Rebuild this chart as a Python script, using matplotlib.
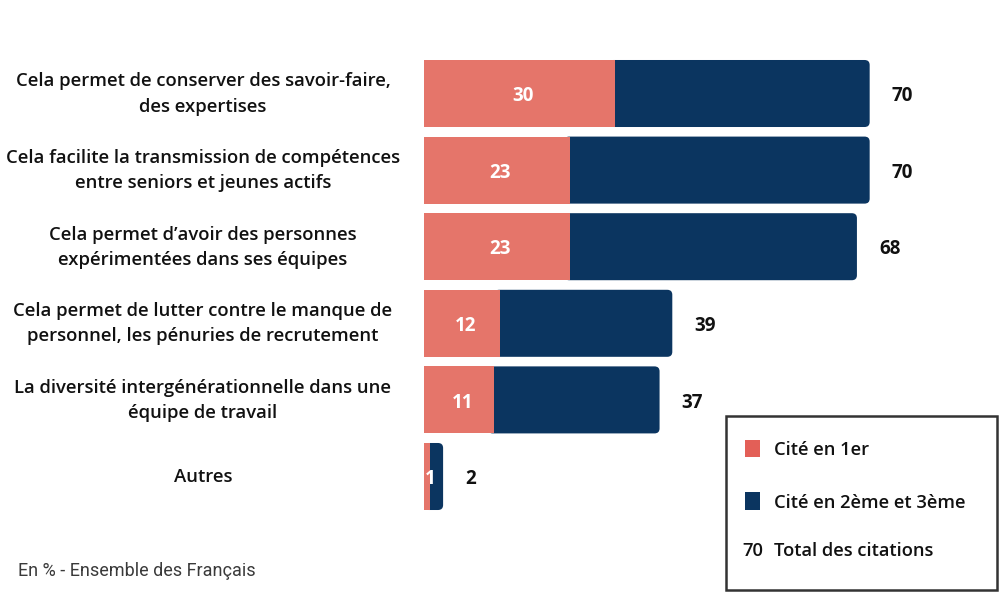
import matplotlib
matplotlib.use("Agg")
import matplotlib.pyplot as plt
from matplotlib.patches import FancyBboxPatch, Rectangle

categories = [
    "Cela permet de conserver des savoir-faire,\ndes expertises",
    "Cela facilite la transmission de compétences\nentre seniors et jeunes actifs",
    "Cela permet d’avoir des personnes\nexpérimentées dans ses équipes",
    "Cela permet de lutter contre le manque de\npersonnel, les pénuries de recrutement",
    "La diversité intergénérationnelle dans une\néquipe de travail",
    "Autres",
]
first = [30, 23, 23, 12, 11, 1]
second_third = [40, 47, 45, 27, 26, 2]
totals = [70, 70, 68, 39, 37, 2]

PINK = "#E5756A"
NAVY = "#0B3560"
FONT = "Open Sans"

fig = plt.figure(figsize=(10, 6), dpi=100)
ax = fig.add_axes([0.424, 0.142, 0.573, 0.766])
ax.set_xlim(0, 90)
ax.set_ylim(len(categories) - 0.5, -0.5)
ax.axis("off")

h = 0.875
# rounding: ~5 px, x scale ~6.37 px/unit, y ~76.6 px/unit
rx = 0.8
asp = (5 / 76.6) / rx
for i in range(len(categories)):
    full = first[i] + second_third[i]
    start = max(0, first[i] - 1)
    box = FancyBboxPatch((start, i - h / 2), full - start, h,
                         boxstyle=f"round,pad=0,rounding_size={rx}",
                         mutation_aspect=asp, fc=NAVY, ec="none", zorder=2)
    ax.add_patch(box)
    ax.add_patch(Rectangle((0, i - h / 2), first[i], h, fc=PINK, ec="none", zorder=3))
    ax.annotate(str(first[i]), (first[i] / 2 + 0.5, i), xytext=(0, -2),
                textcoords="offset points", ha="center", va="center", color="white",
                fontsize=13.5, fontweight="bold", family=FONT, zorder=4)
    ax.annotate(str(totals[i]), (full, i), xytext=(16, -2), textcoords="offset points",
                ha="left", va="center", fontsize=13.5, fontweight="bold",
                family=FONT, color="#111111")
    fig.text(0.203, 1 - (94 + 76.6 * i) / 600, categories[i], ha="center", va="center",
             fontsize=13.3, fontweight="semibold", family=FONT, color="#111111",
             linespacing=1.5)

# legend box
fig.patches.append(Rectangle((0.726, 0.017), 0.271, 0.29, transform=fig.transFigure,
                             fc="white", ec="#333333", lw=1.8, zorder=5))
fig.patches.append(Rectangle((0.745, 1 - 457 / 600), 0.015, 17 / 600, transform=fig.transFigure,
                             fc="#E35F57", ec="none", zorder=6))
fig.patches.append(Rectangle((0.745, 1 - 510 / 600), 0.015, 18 / 600, transform=fig.transFigure,
                             fc=NAVY, ec="none", zorder=6))
leg_kw = dict(fontsize=13.2, fontweight="semibold", family=FONT, color="#111111",
              va="center", zorder=7)
fig.text(0.774, 1 - 450 / 600, "Cité en 1er", **leg_kw)
fig.text(0.774, 1 - 503 / 600, "Cité en 2ème et 3ème", **leg_kw)
fig.text(0.742, 1 - 551 / 600, "70", **leg_kw)
fig.text(0.774, 1 - 551 / 600, "Total des citations", **leg_kw)

fig.text(0.018, 1 - 571 / 600, "En % - Ensemble des Français", fontsize=13,
         family="Roboto", color="#3a3a3a", va="center")

fig.savefig("out.png", dpi=100)
